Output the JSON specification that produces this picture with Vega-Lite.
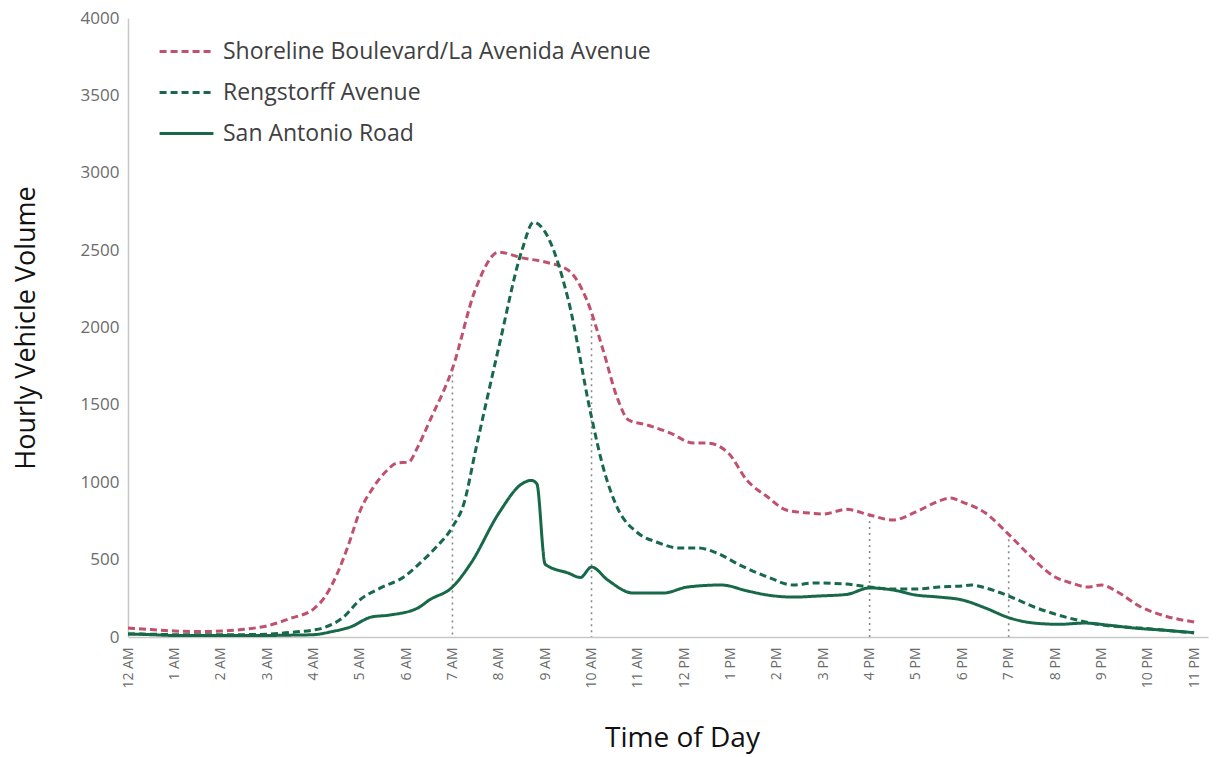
{
  "$schema": "https://vega.github.io/schema/vega-lite/v6.json",
  "autosize": {"type": "none"},
  "padding": {"left": 128, "top": 18, "right": 14, "bottom": 120},
  "width": 1080,
  "height": 619,
  "background": "white",
  "config": {
    "font": "Open Sans",
    "view": {"stroke": null},
    "axis": {"grid": false, "ticks": false, "domainColor": "#c8c8c8", "domainWidth": 1.5, "labelColor": "#6b6b6b", "titleColor": "#111111", "titleFontWeight": "normal"}
  },
  "datasets": {
    "traffic": [
      {"hour": 0, "series": "Shoreline Boulevard/La Avenida Avenue", "volume": 58},
      {"hour": 0.5, "series": "Shoreline Boulevard/La Avenida Avenue", "volume": 48},
      {"hour": 1, "series": "Shoreline Boulevard/La Avenida Avenue", "volume": 39},
      {"hour": 1.5, "series": "Shoreline Boulevard/La Avenida Avenue", "volume": 35},
      {"hour": 2, "series": "Shoreline Boulevard/La Avenida Avenue", "volume": 38},
      {"hour": 2.5, "series": "Shoreline Boulevard/La Avenida Avenue", "volume": 50},
      {"hour": 3, "series": "Shoreline Boulevard/La Avenida Avenue", "volume": 72},
      {"hour": 3.5, "series": "Shoreline Boulevard/La Avenida Avenue", "volume": 120},
      {"hour": 4, "series": "Shoreline Boulevard/La Avenida Avenue", "volume": 180},
      {"hour": 4.25, "series": "Shoreline Boulevard/La Avenida Avenue", "volume": 260},
      {"hour": 4.5, "series": "Shoreline Boulevard/La Avenida Avenue", "volume": 400},
      {"hour": 4.75, "series": "Shoreline Boulevard/La Avenida Avenue", "volume": 590},
      {"hour": 5, "series": "Shoreline Boulevard/La Avenida Avenue", "volume": 810},
      {"hour": 5.3, "series": "Shoreline Boulevard/La Avenida Avenue", "volume": 970},
      {"hour": 5.6, "series": "Shoreline Boulevard/La Avenida Avenue", "volume": 1080},
      {"hour": 5.8, "series": "Shoreline Boulevard/La Avenida Avenue", "volume": 1124},
      {"hour": 6.05, "series": "Shoreline Boulevard/La Avenida Avenue", "volume": 1130},
      {"hour": 6.25, "series": "Shoreline Boulevard/La Avenida Avenue", "volume": 1227},
      {"hour": 6.5, "series": "Shoreline Boulevard/La Avenida Avenue", "volume": 1390},
      {"hour": 7, "series": "Shoreline Boulevard/La Avenida Avenue", "volume": 1735},
      {"hour": 7.5, "series": "Shoreline Boulevard/La Avenida Avenue", "volume": 2250},
      {"hour": 8, "series": "Shoreline Boulevard/La Avenida Avenue", "volume": 2487},
      {"hour": 8.5, "series": "Shoreline Boulevard/La Avenida Avenue", "volume": 2450},
      {"hour": 9, "series": "Shoreline Boulevard/La Avenida Avenue", "volume": 2423},
      {"hour": 9.5, "series": "Shoreline Boulevard/La Avenida Avenue", "volume": 2370},
      {"hour": 9.9, "series": "Shoreline Boulevard/La Avenida Avenue", "volume": 2177},
      {"hour": 10.25, "series": "Shoreline Boulevard/La Avenida Avenue", "volume": 1854},
      {"hour": 10.55, "series": "Shoreline Boulevard/La Avenida Avenue", "volume": 1550},
      {"hour": 10.8, "series": "Shoreline Boulevard/La Avenida Avenue", "volume": 1402},
      {"hour": 11.2, "series": "Shoreline Boulevard/La Avenida Avenue", "volume": 1370},
      {"hour": 11.7, "series": "Shoreline Boulevard/La Avenida Avenue", "volume": 1318},
      {"hour": 12.2, "series": "Shoreline Boulevard/La Avenida Avenue", "volume": 1253},
      {"hour": 12.5, "series": "Shoreline Boulevard/La Avenida Avenue", "volume": 1253},
      {"hour": 12.95, "series": "Shoreline Boulevard/La Avenida Avenue", "volume": 1189},
      {"hour": 13.35, "series": "Shoreline Boulevard/La Avenida Avenue", "volume": 1014},
      {"hour": 13.8, "series": "Shoreline Boulevard/La Avenida Avenue", "volume": 905},
      {"hour": 14.2, "series": "Shoreline Boulevard/La Avenida Avenue", "volume": 821},
      {"hour": 14.7, "series": "Shoreline Boulevard/La Avenida Avenue", "volume": 801},
      {"hour": 15, "series": "Shoreline Boulevard/La Avenida Avenue", "volume": 795},
      {"hour": 15.5, "series": "Shoreline Boulevard/La Avenida Avenue", "volume": 825},
      {"hour": 16, "series": "Shoreline Boulevard/La Avenida Avenue", "volume": 788},
      {"hour": 16.5, "series": "Shoreline Boulevard/La Avenida Avenue", "volume": 756},
      {"hour": 17, "series": "Shoreline Boulevard/La Avenida Avenue", "volume": 808},
      {"hour": 17.5, "series": "Shoreline Boulevard/La Avenida Avenue", "volume": 879},
      {"hour": 17.75, "series": "Shoreline Boulevard/La Avenida Avenue", "volume": 898},
      {"hour": 18, "series": "Shoreline Boulevard/La Avenida Avenue", "volume": 872},
      {"hour": 18.5, "series": "Shoreline Boulevard/La Avenida Avenue", "volume": 801},
      {"hour": 18.95, "series": "Shoreline Boulevard/La Avenida Avenue", "volume": 678},
      {"hour": 19.4, "series": "Shoreline Boulevard/La Avenida Avenue", "volume": 543},
      {"hour": 20, "series": "Shoreline Boulevard/La Avenida Avenue", "volume": 388},
      {"hour": 20.35, "series": "Shoreline Boulevard/La Avenida Avenue", "volume": 349},
      {"hour": 20.7, "series": "Shoreline Boulevard/La Avenida Avenue", "volume": 323},
      {"hour": 21, "series": "Shoreline Boulevard/La Avenida Avenue", "volume": 336},
      {"hour": 21.35, "series": "Shoreline Boulevard/La Avenida Avenue", "volume": 291},
      {"hour": 21.85, "series": "Shoreline Boulevard/La Avenida Avenue", "volume": 194},
      {"hour": 22.3, "series": "Shoreline Boulevard/La Avenida Avenue", "volume": 142},
      {"hour": 23, "series": "Shoreline Boulevard/La Avenida Avenue", "volume": 97},

      {"hour": 0, "series": "Rengstorff Avenue", "volume": 20},
      {"hour": 0.5, "series": "Rengstorff Avenue", "volume": 18},
      {"hour": 1, "series": "Rengstorff Avenue", "volume": 15},
      {"hour": 1.5, "series": "Rengstorff Avenue", "volume": 14},
      {"hour": 2, "series": "Rengstorff Avenue", "volume": 14},
      {"hour": 2.5, "series": "Rengstorff Avenue", "volume": 15},
      {"hour": 3, "series": "Rengstorff Avenue", "volume": 18},
      {"hour": 3.5, "series": "Rengstorff Avenue", "volume": 30},
      {"hour": 4, "series": "Rengstorff Avenue", "volume": 45},
      {"hour": 4.2, "series": "Rengstorff Avenue", "volume": 58},
      {"hour": 4.65, "series": "Rengstorff Avenue", "volume": 129},
      {"hour": 5, "series": "Rengstorff Avenue", "volume": 239},
      {"hour": 5.45, "series": "Rengstorff Avenue", "volume": 317},
      {"hour": 5.95, "series": "Rengstorff Avenue", "volume": 388},
      {"hour": 6.3, "series": "Rengstorff Avenue", "volume": 478},
      {"hour": 6.65, "series": "Rengstorff Avenue", "volume": 581},
      {"hour": 7, "series": "Rengstorff Avenue", "volume": 711},
      {"hour": 7.25, "series": "Rengstorff Avenue", "volume": 866},
      {"hour": 7.5, "series": "Rengstorff Avenue", "volume": 1208},
      {"hour": 8, "series": "Rengstorff Avenue", "volume": 1873},
      {"hour": 8.5, "series": "Rengstorff Avenue", "volume": 2500},
      {"hour": 8.75, "series": "Rengstorff Avenue", "volume": 2680},
      {"hour": 9, "series": "Rengstorff Avenue", "volume": 2616},
      {"hour": 9.5, "series": "Rengstorff Avenue", "volume": 2177},
      {"hour": 10, "series": "Rengstorff Avenue", "volume": 1420},
      {"hour": 10.25, "series": "Rengstorff Avenue", "volume": 1098},
      {"hour": 10.55, "series": "Rengstorff Avenue", "volume": 840},
      {"hour": 11, "series": "Rengstorff Avenue", "volume": 672},
      {"hour": 11.4, "series": "Rengstorff Avenue", "volume": 614},
      {"hour": 11.9, "series": "Rengstorff Avenue", "volume": 575},
      {"hour": 12.3, "series": "Rengstorff Avenue", "volume": 575},
      {"hour": 12.7, "series": "Rengstorff Avenue", "volume": 543},
      {"hour": 13.2, "series": "Rengstorff Avenue", "volume": 465},
      {"hour": 13.8, "series": "Rengstorff Avenue", "volume": 388},
      {"hour": 14.35, "series": "Rengstorff Avenue", "volume": 336},
      {"hour": 14.8, "series": "Rengstorff Avenue", "volume": 349},
      {"hour": 15.5, "series": "Rengstorff Avenue", "volume": 342},
      {"hour": 16, "series": "Rengstorff Avenue", "volume": 323},
      {"hour": 16.5, "series": "Rengstorff Avenue", "volume": 310},
      {"hour": 17, "series": "Rengstorff Avenue", "volume": 310},
      {"hour": 17.5, "series": "Rengstorff Avenue", "volume": 323},
      {"hour": 18, "series": "Rengstorff Avenue", "volume": 330},
      {"hour": 18.2, "series": "Rengstorff Avenue", "volume": 336},
      {"hour": 18.5, "series": "Rengstorff Avenue", "volume": 317},
      {"hour": 19, "series": "Rengstorff Avenue", "volume": 265},
      {"hour": 19.55, "series": "Rengstorff Avenue", "volume": 194},
      {"hour": 20.3, "series": "Rengstorff Avenue", "volume": 123},
      {"hour": 21, "series": "Rengstorff Avenue", "volume": 78},
      {"hour": 21.85, "series": "Rengstorff Avenue", "volume": 58},
      {"hour": 23, "series": "Rengstorff Avenue", "volume": 26},

      {"hour": 0, "series": "San Antonio Road", "volume": 20},
      {"hour": 0.5, "series": "San Antonio Road", "volume": 15},
      {"hour": 1, "series": "San Antonio Road", "volume": 10},
      {"hour": 1.5, "series": "San Antonio Road", "volume": 10},
      {"hour": 2, "series": "San Antonio Road", "volume": 10},
      {"hour": 2.5, "series": "San Antonio Road", "volume": 10},
      {"hour": 3, "series": "San Antonio Road", "volume": 10},
      {"hour": 3.5, "series": "San Antonio Road", "volume": 12},
      {"hour": 4, "series": "San Antonio Road", "volume": 15},
      {"hour": 4.4, "series": "San Antonio Road", "volume": 35},
      {"hour": 4.8, "series": "San Antonio Road", "volume": 65},
      {"hour": 5.25, "series": "San Antonio Road", "volume": 129},
      {"hour": 5.65, "series": "San Antonio Road", "volume": 142},
      {"hour": 6.25, "series": "San Antonio Road", "volume": 187},
      {"hour": 6.5, "series": "San Antonio Road", "volume": 239},
      {"hour": 7, "series": "San Antonio Road", "volume": 323},
      {"hour": 7.4, "series": "San Antonio Road", "volume": 478},
      {"hour": 8, "series": "San Antonio Road", "volume": 800},
      {"hour": 8.5, "series": "San Antonio Road", "volume": 990},
      {"hour": 8.7, "series": "San Antonio Road", "volume": 1012},
      {"hour": 8.82, "series": "San Antonio Road", "volume": 990},
      {"hour": 9, "series": "San Antonio Road", "volume": 470},
      {"hour": 9.5, "series": "San Antonio Road", "volume": 413},
      {"hour": 9.76, "series": "San Antonio Road", "volume": 385},
      {"hour": 10, "series": "San Antonio Road", "volume": 452},
      {"hour": 10.35, "series": "San Antonio Road", "volume": 368},
      {"hour": 10.9, "series": "San Antonio Road", "volume": 284},
      {"hour": 11.55, "series": "San Antonio Road", "volume": 284},
      {"hour": 12.07, "series": "San Antonio Road", "volume": 323},
      {"hour": 12.8, "series": "San Antonio Road", "volume": 336},
      {"hour": 13.37, "series": "San Antonio Road", "volume": 297},
      {"hour": 13.8, "series": "San Antonio Road", "volume": 271},
      {"hour": 14.36, "series": "San Antonio Road", "volume": 258},
      {"hour": 14.9, "series": "San Antonio Road", "volume": 265},
      {"hour": 15.5, "series": "San Antonio Road", "volume": 275},
      {"hour": 16, "series": "San Antonio Road", "volume": 317},
      {"hour": 16.5, "series": "San Antonio Road", "volume": 304},
      {"hour": 17, "series": "San Antonio Road", "volume": 271},
      {"hour": 17.5, "series": "San Antonio Road", "volume": 258},
      {"hour": 18, "series": "San Antonio Road", "volume": 239},
      {"hour": 18.5, "series": "San Antonio Road", "volume": 187},
      {"hour": 19, "series": "San Antonio Road", "volume": 125},
      {"hour": 19.55, "series": "San Antonio Road", "volume": 90},
      {"hour": 20.1, "series": "San Antonio Road", "volume": 82},
      {"hour": 20.63, "series": "San Antonio Road", "volume": 90},
      {"hour": 21.2, "series": "San Antonio Road", "volume": 75},
      {"hour": 21.7, "series": "San Antonio Road", "volume": 58},
      {"hour": 22.3, "series": "San Antonio Road", "volume": 45},
      {"hour": 23, "series": "San Antonio Road", "volume": 28}
    ],
    "markers": [
      {"hour": 7, "top": 1735},
      {"hour": 10, "top": 2060},
      {"hour": 16, "top": 788},
      {"hour": 19, "top": 670}
    ]
  },
  "layer": [
    {
      "data": {"name": "markers"},
      "mark": {"type": "rule", "color": "#8a8a8a", "strokeWidth": 1.6, "strokeDash": [2, 4]},
      "encoding": {
        "x": {"field": "hour", "type": "quantitative", "scale": {"domain": [0, 23.3], "nice": false, "zero": false}},
        "y": {"field": "top", "type": "quantitative", "scale": {"domain": [0, 4000], "nice": false}},
        "y2": {"datum": 0}
      }
    },
    {
      "data": {"name": "traffic"},
      "mark": {"type": "line", "interpolate": "monotone", "strokeWidth": 3},
      "encoding": {
        "x": {
          "field": "hour", "type": "quantitative",
          "scale": {"domain": [0, 23.3], "nice": false, "zero": false},
          "axis": {
            "values": [0,1,2,3,4,5,6,7,8,9,10,11,12,13,14,15,16,17,18,19,20,21,22,23],
            "labelExpr": "datum.value == 0 ? '12 AM' : datum.value < 12 ? datum.value + ' AM' : datum.value == 12 ? '12 PM' : (datum.value - 12) + ' PM'",
            "labelAngle": -90,
            "labelFontSize": 14,
            "labelPadding": 10,
            "title": "Time of Day",
            "titleFontSize": 28,
            "titlePadding": 36,
            "titleX": 554
          }
        },
        "y": {
          "field": "volume", "type": "quantitative",
          "scale": {"domain": [0, 4000], "nice": false},
          "axis": {
            "values": [0, 500, 1000, 1500, 2000, 2500, 3000, 3500, 4000],
            "format": "d",
            "labelFontSize": 17,
            "labelPadding": 9,
            "title": "Hourly Vehicle Volume",
            "titleFontSize": 27,
            "titlePadding": 40
          }
        },
        "color": {
          "field": "series", "type": "nominal",
          "scale": {
            "domain": ["Shoreline Boulevard/La Avenida Avenue", "Rengstorff Avenue", "San Antonio Road"],
            "range": ["#c0506e", "#17694a", "#17694a"]
          },
          "legend": {
            "title": null,
            "orient": "none",
            "legendX": 30,
            "legendY": 5,
            "symbolType": "stroke",
            "symbolSize": 2900,
            "symbolStrokeWidth": 3,
            "labelFontSize": 23,
            "labelColor": "#404040",
            "labelOffset": 8,
            "rowPadding": -17,
            "labelLimit": 700
          }
        },
        "strokeDash": {
          "field": "series", "type": "nominal",
          "scale": {
            "domain": ["Shoreline Boulevard/La Avenida Avenue", "Rengstorff Avenue", "San Antonio Road"],
            "range": [[7, 4], [7, 4], [1, 0]]
          },
          "legend": {
            "title": null,
            "orient": "none",
            "legendX": 30,
            "legendY": 5,
            "symbolType": "stroke",
            "symbolSize": 2900,
            "symbolStrokeWidth": 3,
            "labelFontSize": 23,
            "labelColor": "#404040",
            "labelOffset": 8,
            "rowPadding": -17,
            "labelLimit": 700
          }
        }
      }
    }
  ]
}
